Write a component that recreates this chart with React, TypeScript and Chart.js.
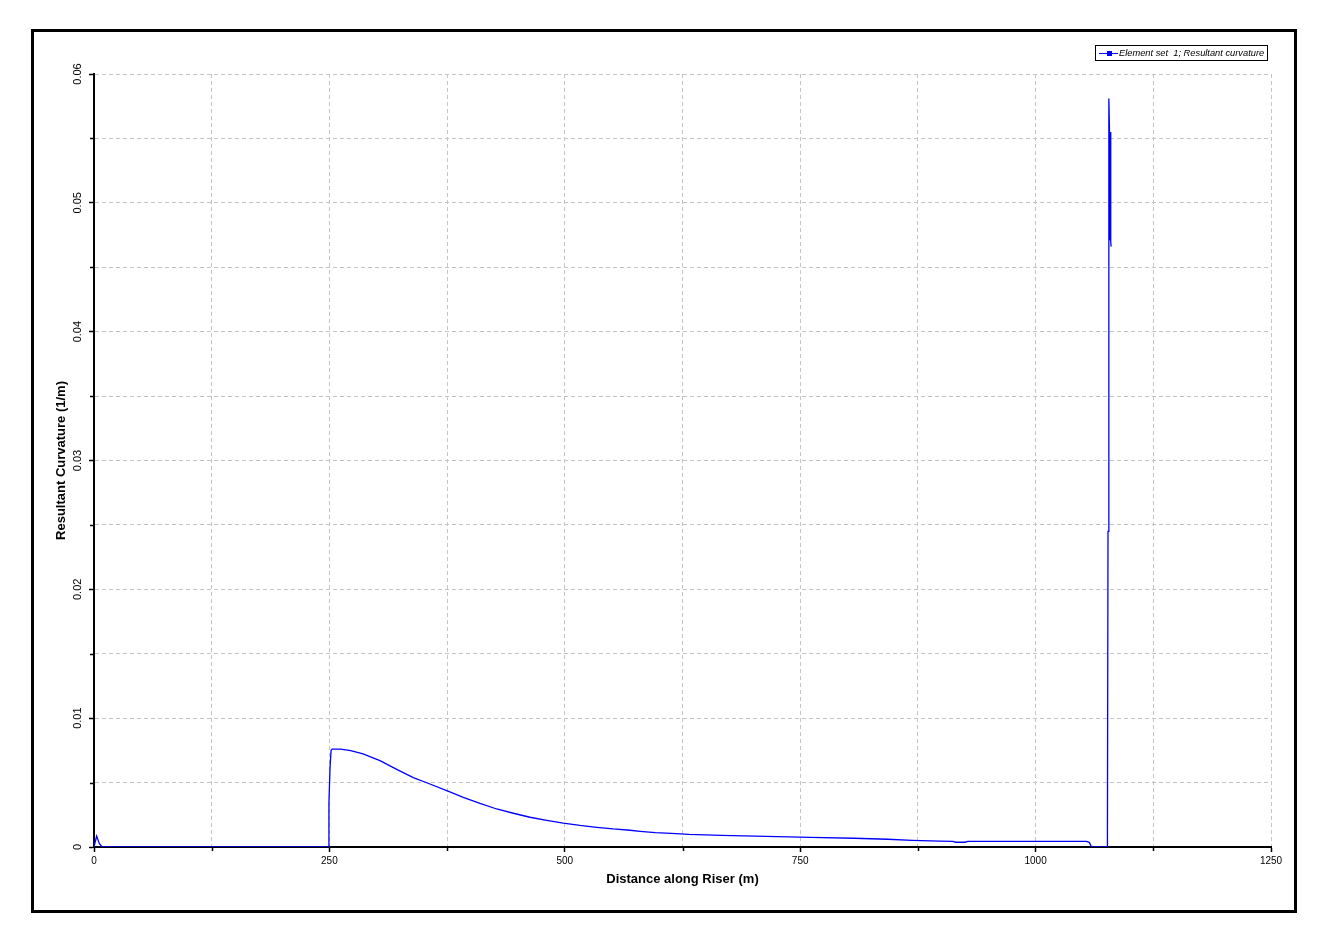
import React, { useEffect, useRef } from 'react';
import { Chart, registerables } from 'chart.js';

Chart.register(...registerables);

// ---- data ----
const seriesLabel = 'Element set  1; Resultant curvature';
const xTitle = 'Distance along Riser (m)';
const yTitle = 'Resultant Curvature (1/m)';

const distance = [
  0, 2.8, 5.6, 8.5,
  248.8, 249.5, 250.7, 251.8, 253,
  262, 272.6, 285.7, 303.7, 321.5,
  339.1, 356.8, 374.6, 392.2, 409.9,
  427.7, 445.3, 463.0, 480.8, 498.4,
  516.1, 533.9, 551.5, 569.2,
  580, 596, 613, 632, 666,
  714, 761, 807, 843, 869,
  898, 912, 915, 925, 928,
  1054, 1057, 1059.5,
  1076.2, 1076.3, 1076.9, 1077.8, 1078.5,
  1079.0, 1079.4, 1079.8, 1080.2,
];
const curvature = [
  0, 0.00085, 0.00027, 0,
  0, 0.0034, 0.0062, 0.0075, 0.0076,
  0.00759, 0.00748, 0.00722, 0.0067, 0.00603,
  0.00538, 0.00489, 0.00437, 0.00386, 0.00339,
  0.00295, 0.00262, 0.00231, 0.00207, 0.00186,
  0.00168, 0.00153, 0.0014, 0.0013,
  0.00122, 0.00111, 0.00105, 0.00098, 0.00091,
  0.00083, 0.00075, 0.00068, 0.0006, 0.00052,
  0.00045, 0.00043, 0.00037, 0.00037, 0.00044,
  0.00044, 0.00036, 0,
  0, 0.0012, 0.0245, 0.0581, 0.0555,
  0.0471, 0.0555, 0.047, 0.0466,
];

const xMin = 0, xMax = 1250, xStep = 125, xLabelStep = 250;
const yMin = 0, yMax = 0.06, yStep = 0.005, yLabelStep = 0.01;

const W = 1310;
const H = 926;
const FONT = '"Liberation Sans", Arial, sans-serif';

const isMajorX = (v: number) => Math.round(v) % xLabelStep === 0;
const isMajorY = (v: number) => Math.round(v * 1000) % Math.round(yLabelStep * 1000) === 0;

const decorPlugin = {
  id: 'decor',
  afterDraw(chart: any) {
    const ctx = chart.ctx as CanvasRenderingContext2D;
    const { left, bottom } = chart.chartArea;
    const xs = chart.scales.x;
    const ys = chart.scales.y;
    ctx.save();
    // minor tick marks
    ctx.strokeStyle = '#000';
    ctx.lineWidth = 1.5;
    ctx.setLineDash([]);
    ctx.beginPath();
    ys.ticks.forEach((t: any) => {
      if (!isMajorY(t.value)) {
        const p = Math.round(ys.getPixelForValue(t.value)) + 0.5;
        ctx.moveTo(left - 4, p);
        ctx.lineTo(left, p);
      }
    });
    xs.ticks.forEach((t: any) => {
      if (!isMajorX(t.value)) {
        const p = Math.round(xs.getPixelForValue(t.value)) + 0.5;
        ctx.moveTo(p, bottom);
        ctx.lineTo(p, bottom + 4);
      }
    });
    ctx.stroke();

    // outer frame
    ctx.lineWidth = 3;
    ctx.strokeStyle = '#000';
    ctx.strokeRect(24.5, 22.5, 1263, 881);

    // legend
    const label = chart.data.datasets[0].label;
    const color = chart.data.datasets[0].borderColor;
    ctx.lineWidth = 1;
    ctx.strokeStyle = '#000';
    ctx.strokeRect(1087.5, 37.5, 172, 15);
    ctx.strokeStyle = color;
    ctx.beginPath();
    ctx.moveTo(1091, 45.5);
    ctx.lineTo(1110, 45.5);
    ctx.stroke();
    ctx.fillStyle = color;
    ctx.fillRect(1099, 43, 5, 5);
    ctx.fillStyle = '#000';
    ctx.font = `italic 9.3px ${FONT}`;
    ctx.textBaseline = 'middle';
    ctx.textAlign = 'left';
    ctx.fillText(label, 1111, 45.5);
    ctx.restore();
  },
};

export default function App() {
  const ref = useRef<HTMLCanvasElement>(null);

  useEffect(() => {
    const canvas = ref.current;
    if (!canvas) return;
    const chart = new Chart(canvas, {
      type: 'line',
      data: {
        datasets: [
          {
            label: seriesLabel,
            data: distance.map((x, i) => ({ x, y: curvature[i] })),
            borderColor: '#0000ff',
            backgroundColor: '#0000ff',
            borderWidth: 1.3,
            pointRadius: 0,
            tension: 0,
            fill: false,
          },
        ],
      },
      options: {
        responsive: false,
        animation: false,
        devicePixelRatio: 1,
        events: [],
        layout: { padding: { left: 46, right: 47, top: 66, bottom: 47 } },
        plugins: {
          legend: { display: false },
          tooltip: { enabled: false },
        },
        scales: {
          x: {
            type: 'linear',
            min: xMin,
            max: xMax,
            afterFit: (s: any) => {
              s.height = 40;
            },
            border: { display: true, color: '#000', width: 2, dash: [4, 3] },
            grid: {
              color: (c: any) => (c.tick && c.tick.value === 0 ? 'rgba(0,0,0,0)' : '#c4c4c4'),
              lineWidth: 1,
              drawTicks: true,
              tickLength: 5,
              tickColor: (c: any) => (c.tick && isMajorX(c.tick.value) ? '#000' : 'rgba(0,0,0,0)'),
              tickWidth: 1.5,
              tickBorderDash: [],
            },
            ticks: {
              stepSize: xStep,
              autoSkip: false,
              maxRotation: 0,
              minRotation: 0,
              padding: 3,
              color: '#000',
              font: { family: FONT, size: 10 },
              callback: (v: any) => (isMajorX(Number(v)) ? String(v) : ''),
            },
            title: {
              display: true,
              text: xTitle,
              color: '#000',
              font: { family: FONT, size: 13, weight: 'bold' },
              padding: { top: 0, bottom: 0 },
            },
          },
          y: {
            type: 'linear',
            min: yMin,
            max: yMax,
            afterFit: (s: any) => {
              s.width = 40;
            },
            border: { display: true, color: '#000', width: 2, dash: [4, 3] },
            grid: {
              color: (c: any) => (c.tick && c.tick.value === 0 ? 'rgba(0,0,0,0)' : '#c4c4c4'),
              lineWidth: 1,
              drawTicks: true,
              tickLength: 5,
              tickColor: (c: any) => (c.tick && isMajorY(c.tick.value) ? '#000' : 'rgba(0,0,0,0)'),
              tickWidth: 1.5,
              tickBorderDash: [],
            },
            ticks: {
              stepSize: yStep,
              autoSkip: false,
              minRotation: 90,
              maxRotation: 90,
              crossAlign: 'center',
              padding: 0,
              color: '#000',
              font: { family: FONT, size: 11 },
              callback: (v: any) => {
                const n = Number(v);
                if (!isMajorY(n)) return '';
                return n === 0 ? '0' : n.toFixed(2);
              },
            },
            title: {
              display: true,
              text: yTitle,
              color: '#000',
              font: { family: FONT, size: 13, weight: 'bold' },
              padding: { top: 0, bottom: 0 },
            },
          },
        },
      } as any,
      plugins: [decorPlugin],
    });
    return () => chart.destroy();
  }, []);

  return (
    <canvas
      ref={ref}
      width={W}
      height={H}
      style={{ display: 'block', width: W, height: H }}
    />
  );
}
